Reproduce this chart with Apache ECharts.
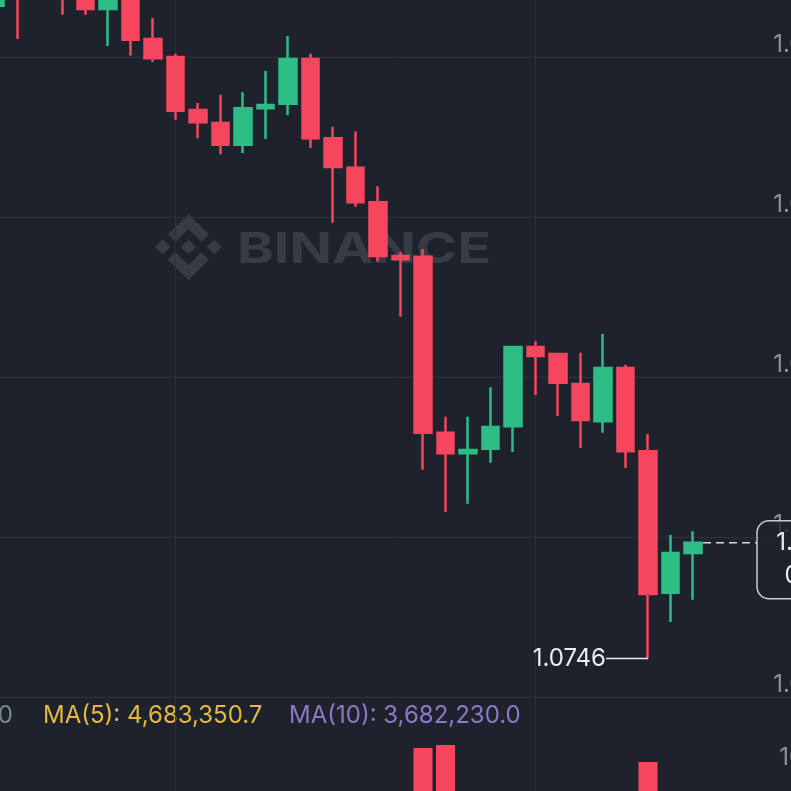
<!DOCTYPE html>
<html><head><meta charset="utf-8">
<script src="https://cdn.jsdelivr.net/npm/echarts@6/dist/echarts.min.js"></script>
<style>html,body{margin:0;padding:0;background:#1e222c;}#c{width:791px;height:791px;}</style>
</head><body><div id="c"></div>
<script>
// ---- data ----
const times = ['08:00','08:15','08:30','08:45','09:00','09:15','09:30','09:45','10:00','10:15','10:30','10:45','11:00','11:15','11:30','11:45','12:00','12:15','12:30','12:45','13:00','13:15','13:30','13:45','14:00','14:15','14:30','14:45','15:00','15:15','15:30','15:45'];
const opens  = [1.08480,1.08552,1.08583,1.08528,1.08502,1.08475,1.08488,1.08428,1.08400,1.08317,1.08297,1.08263,1.08320,1.08327,1.08397,1.08273,1.08227,1.08173,1.08089,1.08088,1.07813,1.07781,1.07788,1.07823,1.07947,1.07936,1.07889,1.07831,1.07914,1.07784,1.07563,1.07625];
const closes = [1.08520,1.08502,1.08513,1.08494,1.08475,1.08495,1.08427,1.08398,1.08316,1.08298,1.08263,1.08320,1.08325,1.08397,1.08273,1.08228,1.08173,1.08089,1.08084,1.07813,1.07781,1.07786,1.07822,1.07947,1.07933,1.07891,1.07833,1.07914,1.07784,1.07561,1.07625,1.07641];
const lows   = [1.08467,1.08428,1.08497,1.08466,1.08466,1.08417,1.08402,1.08392,1.08302,1.08273,1.08248,1.08250,1.08272,1.08309,1.08258,1.08141,1.08166,1.08080,1.07994,1.07755,1.07689,1.07702,1.07766,1.07783,1.07872,1.07839,1.07789,1.07813,1.07758,1.07460,1.07517,1.07552];
const highs  = [1.08536,1.08567,1.08598,1.08544,1.08513,1.08505,1.08494,1.08461,1.08405,1.08328,1.08341,1.08345,1.08378,1.08433,1.08405,1.08291,1.08284,1.08198,1.08095,1.08100,1.07838,1.07838,1.07884,1.07948,1.07956,1.07938,1.07938,1.07967,1.07919,1.07811,1.07653,1.07659];
const vols   = [2315400.6,3102877.1,1984203.5,2650118.9,1720442.3,2871065.0,3455910.2,2208731.8,4012556.4,2537120.7,3210984.6,2774301.3,1893662.0,3640218.5,4281390.9,5102774.2,3318045.6,4905233.1,3027611.4,12748310.5,13131904.2,5433208.7,2105430.2,3987615.9,2312870.4,2044118.6,2955511.4,3141220.4,4301112.8,11004000.0,3264300.3,1706120.0];
const priceTicks = {min: 1.0740, max: 1.0865, interval: 0.0025};
const volTicks = {min: 0, max: 19125000, interval: 10000000};
const countdown = '08:42';

// ---- style ----
const BG = '#1e222c', GRID = '#2c313c', GREEN = '#2ebd85', RED = '#f6465d';
const AXISTXT = '#8b9099', WM = '#363b46', FONT = 'Inter';
// Binance logo pieces in a 24x24 box
const LOGO = [
  [[16.624,13.92],[19.3415,16.6356],[11.9885,23.9886],[4.6355,16.6366],[7.353,13.92],[11.9885,18.5797]],
  [[21.2606,9.2836],[24,12],[21.2846,14.7164],[18.5682,12]],
  [[11.9886,9.2846],[14.7049,11.976],[11.9885,14.6934],[9.2721,12]],
  [[2.7164,9.2836],[5.4088,12],[2.7174,14.6924],[0,12]],
  [[11.9885,0.0115],[19.3415,7.3405],[16.6241,10.0559],[11.9885,5.4203],[7.353,10.0798],[4.6356,7.3644]]
];

const candleData = times.map((t, i) => [opens[i], closes[i], lows[i], highs[i]]);
const volData = vols.map((v, i) => ({value: v, itemStyle: {color: closes[i] >= opens[i] ? GREEN : RED}}));
const fmt1 = v => v.toLocaleString('en-US', {minimumFractionDigits: 1, maximumFractionDigits: 1});
const ma = n => vols.slice(-n).reduce((a, b) => a + b, 0) / n;

const mc = document.createElement('canvas').getContext('2d');
mc.font = 'bold 43px ' + FONT;
const wmScale = 254 / mc.measureText('BINANCE').width;

const GL = -15.75, GR = -48.25;
const xCommon = {
  type: 'category', data: times, max: 37, boundaryGap: true,
  axisLine: {show: false}, axisTick: {show: false}, axisLabel: {show: false},
  splitLine: {show: true, alignWithLabel: true, interval: i => i % 16 === 8, lineStyle: {color: GRID, width: 1}}
};

const chart = echarts.init(document.getElementById('c'));
chart.setOption({
  backgroundColor: BG,
  animation: false,
  grid: [
    {left: GL, right: GR, top: -103, height: 800, outerBoundsMode: 'none', containLabel: false},
    {left: GL, right: GR, top: 697, height: 153, outerBoundsMode: 'none', containLabel: false}
  ],
  xAxis: [Object.assign({gridIndex: 0}, xCommon), Object.assign({gridIndex: 1}, xCommon)],
  yAxis: [
    {type: 'value', gridIndex: 0, position: 'right', min: priceTicks.min, max: priceTicks.max, interval: priceTicks.interval,
     axisLine: {show: false}, axisTick: {show: false},
     splitLine: {show: true, lineStyle: {color: GRID, width: 1}},
     axisLabel: {inside: true, align: 'left', verticalAlign: 'bottom', margin: 66, color: AXISTXT, fontSize: 24, fontFamily: FONT,
                 formatter: v => v.toFixed(4)}},
    {type: 'value', gridIndex: 1, position: 'right', min: volTicks.min, max: volTicks.max, interval: volTicks.interval,
     axisLine: {show: false}, axisTick: {show: false}, splitLine: {show: false},
     axisLabel: {inside: true, align: 'left', verticalAlign: 'bottom', margin: 60, color: AXISTXT, fontSize: 24, fontFamily: FONT,
                 showMinLabel: false, showMaxLabel: false, formatter: v => (v / 1e6).toFixed(2) + 'M'}}
  ],
  series: [
    {type: 'candlestick', xAxisIndex: 0, yAxisIndex: 0, data: candleData, barWidth: 17, z: 5,
     itemStyle: {color: GREEN, color0: RED, borderColor: GREEN, borderColor0: RED, borderWidth: 2.5}},
    {type: 'bar', xAxisIndex: 1, yAxisIndex: 1, data: volData, barWidth: 19, z: 5}
  ],
  graphic: [
    {id: 'wmLogo', type: 'group', z: 1, silent: true, x: 155, y: 214, scaleX: 67 / 24, scaleY: 66 / 24,
     children: LOGO.map((pts, k) => ({type: 'polygon', shape: {points: pts}, style: {fill: WM}}))},
    {id: 'wmText', type: 'text', z: 1, silent: true, x: 237, y: 250, scaleX: wmScale,
     style: {text: 'BINANCE', fill: WM, fontSize: 43, fontWeight: 'bold', fontFamily: FONT, verticalAlign: 'middle'}},
    {id: 'volTxt', type: 'text', x: 13, y: 716, style: {text: 'Vol(USDT): ' + fmt1(vols[vols.length - 1]), fill: '#7d838e', fontSize: 24, fontFamily: FONT, align: 'right', verticalAlign: 'middle'}},
    {id: 'ma5', type: 'text', x: 43, y: 716, style: {text: 'MA(5): ' + fmt1(ma(5)), fill: '#e6b83f', fontSize: 24, fontFamily: FONT, verticalAlign: 'middle'}},
    {id: 'ma10', type: 'text', x: 289, y: 716, style: {text: 'MA(10): ' + fmt1(ma(10)), fill: '#8d78c4', fontSize: 24, fontFamily: FONT, verticalAlign: 'middle'}}
  ]
});

// annotations placed through the chart's own scales
const last = closes.length - 1;
const pLast = chart.convertToPixel({gridIndex: 0}, [last, closes[last]]);
const lowVal = Math.min(...lows);
const lowIdx = lows.indexOf(lowVal);
const pLow = chart.convertToPixel({gridIndex: 0}, [lowIdx, lowVal]);
const BOXL = 757, BOXW = 122;
chart.setOption({
  graphic: [
    {id: 'curLine', type: 'line', z: 50, shape: {x1: pLast[0] + 10, y1: pLast[1], x2: BOXL, y2: pLast[1]},
     style: {stroke: '#d5d8dc', lineWidth: 1.5, lineDash: [8, 5]}},
    {id: 'curBox', type: 'rect', z: 50, shape: {x: BOXL, y: pLast[1] - 22, width: BOXW, height: 78, r: 12},
     style: {fill: 'rgba(30,34,44,0.82)', stroke: '#c9ccd1', lineWidth: 1.5}},
    {id: 'curTxt', type: 'text', z: 51, x: BOXL + BOXW / 2, y: pLast[1] + 17,
     style: {text: closes[last].toFixed(5) + '\n' + countdown, fill: '#eaecef', fontSize: 24, fontFamily: FONT, lineHeight: 33, align: 'center', verticalAlign: 'middle'}},
    {id: 'lowLine', type: 'line', z: 50, shape: {x1: pLow[0] - 42, y1: pLow[1], x2: pLow[0], y2: pLow[1]},
     style: {stroke: '#eaecef', lineWidth: 1.5}},
    {id: 'lowTxt', type: 'text', z: 51, x: pLow[0] - 42, y: pLow[1], style: {text: lowVal.toFixed(4), fill: '#eaecef', fontSize: 24, fontFamily: FONT, align: 'right', verticalAlign: 'middle'}}
  ]
});
</script></body></html>
